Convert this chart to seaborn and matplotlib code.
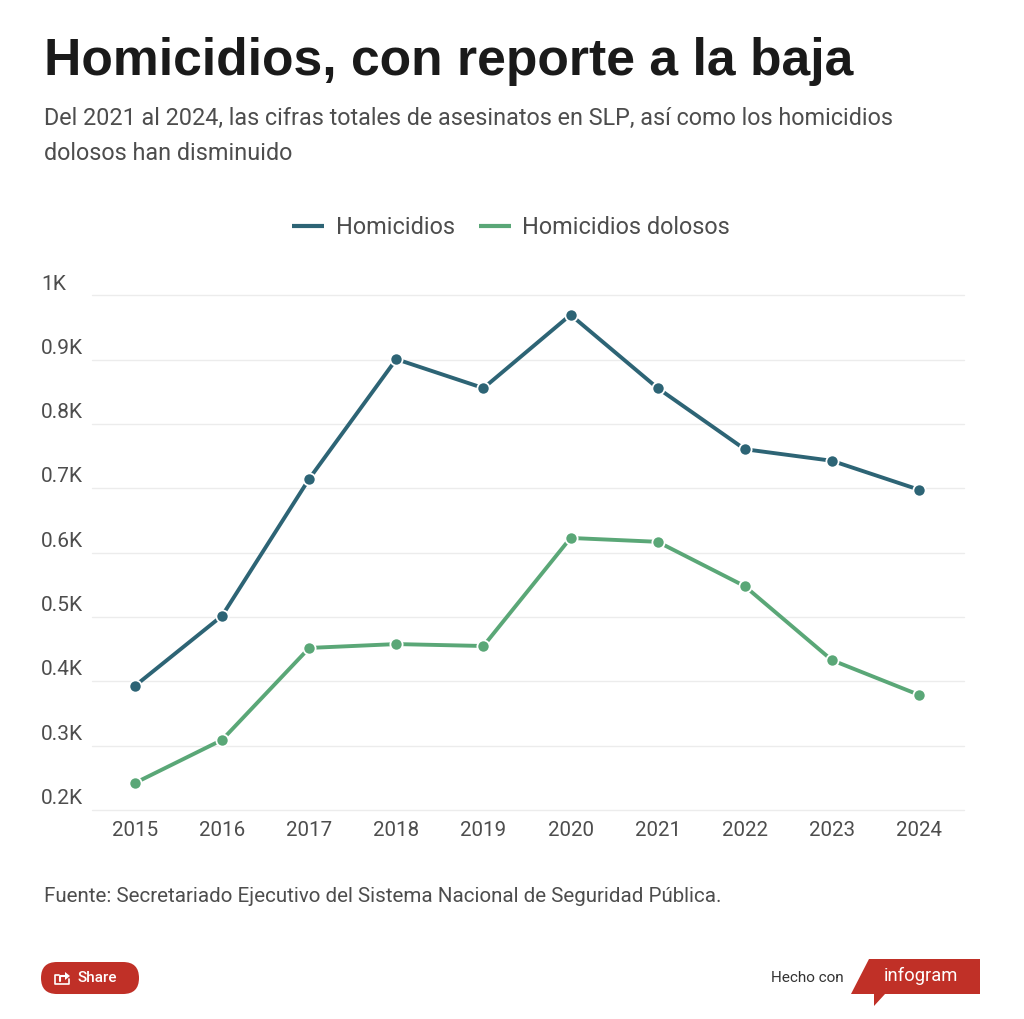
import matplotlib
matplotlib.use("Agg")
import matplotlib.pyplot as plt
import seaborn as sns
import pandas as pd
from matplotlib.lines import Line2D
from matplotlib.patches import FancyBboxPatch, Polygon

# values
years = [2015, 2016, 2017, 2018, 2019, 2020, 2021, 2022, 2023, 2024]
homicidios = [393, 502, 715, 901, 856, 970, 856, 761, 743, 698]
dolosos = [242, 309, 452, 458, 455, 623, 617, 548, 433, 379]
y_ticks = [200, 300, 400, 500, 600, 700, 800, 900, 1000]
y_labels = ["0.2K", "0.3K", "0.4K", "0.5K", "0.6K", "0.7K", "0.8K", "0.9K", "1K"]

AZUL = "#2d6475"
VERDE = "#5aa777"
GRIS = "#4d4d4d"
ROJO = "#c03027"

sns.set_theme(style="white")
plt.rcParams["font.family"] = ["Roboto", "DejaVu Sans"]

W, H = 1024, 1019
fig = plt.figure(figsize=(W / 100, H / 100), dpi=100, facecolor="white")

# axes box in pixels
left, right, top, bottom = 92, 964, 295.5, 810
ax = fig.add_axes([left / W, 1 - bottom / H, (right - left) / W, (bottom - top) / H])

df = pd.DataFrame({
    "year": years * 2,
    "value": homicidios + dolosos,
    "serie": ["Homicidios"] * 10 + ["Homicidios dolosos"] * 10,
})
sns.lineplot(
    data=df, x="year", y="value", hue="serie",
    palette={"Homicidios": AZUL, "Homicidios dolosos": VERDE},
    linewidth=2.8, marker="o", markersize=8.8,
    markeredgecolor="white", markeredgewidth=1.3,
    legend=False, ax=ax, zorder=3, clip_on=False,
)

ax.set_xlim(2015 - 43 / 87.17, 2024 + 45 / 87.17)
ax.set_ylim(200, 1000)
ax.set_yticks(y_ticks)
ax.set_yticklabels([])
ax.set_xticks(years)
ax.set_xticklabels(years, fontsize=14.8, color=GRIS)
ax.set_xlabel("")
ax.set_ylabel("")
ax.grid(axis="y", color="#ececec", linewidth=1.0)
ax.grid(axis="x", visible=False)
for gl in ax.get_ygridlines():
    gl.set_clip_on(False)
ax.set_axisbelow(True)
ax.tick_params(axis="x", length=0, pad=8.2)
ax.tick_params(axis="y", length=0)
sns.despine(ax=ax, left=True, bottom=True, top=True, right=True)


def fx(px):
    return px / W


def fy(py):
    return 1 - py / H


# y labels sit above their gridlines, outside the axes on the left
for tick, lab in zip(y_ticks, y_labels):
    py = bottom - (tick - 200) / 800 * (bottom - top)
    fig.text(fx(41), fy(py - 11.5), lab, fontsize=15, color=GRIS, va="center", ha="left")

fig.text(fx(44), fy(62), "Homicidios, con reporte a la baja", fontsize=37.2,
         fontweight="bold", color="#1a1a1a", family="Liberation Sans", va="center", ha="left")
fig.text(fx(44), fy(118), "Del 2021 al 2024, las cifras totales de asesinatos en SLP, así como los homicidios",
         fontsize=16.85, color=GRIS, va="center", ha="left")
fig.text(fx(44), fy(153), "dolosos han disminuido", fontsize=16.85, color=GRIS, va="center", ha="left")

# legend
for x0, x1, col in [(292, 324, AZUL), (479, 511, VERDE)]:
    fig.add_artist(Line2D([fx(x0), fx(x1)], [fy(226), fy(226)], color=col, linewidth=3.0,
                          solid_capstyle="butt"))
fig.text(fx(336), fy(227), "Homicidios", fontsize=16.9, color=GRIS, va="center", ha="left")
fig.text(fx(522), fy(227), "Homicidios dolosos", fontsize=16.9, color=GRIS, va="center", ha="left")

fig.text(fx(44), fy(896), "Fuente: Secretariado Ejecutivo del Sistema Nacional de Seguridad Pública.",
         fontsize=14.8, color=GRIS, va="center", ha="left")

# share button
overlay = fig.add_axes([0, 0, 1, 1], facecolor="none")
overlay.set_xlim(0, W)
overlay.set_ylim(H, 0)
overlay.axis("off")
overlay.add_patch(FancyBboxPatch((41 + 16, 962 + 16), 98 - 32, 0.01,
                                 boxstyle="round,pad=16", facecolor=ROJO, edgecolor="none"))
overlay.add_line(Line2D([59, 55, 55, 69, 69], [975, 975, 984, 984, 979], color="white", linewidth=1.2))
overlay.add_line(Line2D([60, 60, 65], [981, 976, 976], color="white", linewidth=1.5))
overlay.add_patch(Polygon([(65, 972), (70, 976), (65, 980)], closed=True, facecolor="white", edgecolor="none"))
overlay.text(78, 978, "Share", fontsize=11, color="white", fontweight="medium", va="center", ha="left")

# infogram badge
overlay.text(844, 978, "Hecho con", fontsize=11, color="#333333", va="center", ha="right")
overlay.add_patch(Polygon([(869, 959), (980, 959), (980, 994), (885, 994), (874, 1006),
                           (874, 994), (851, 994)], closed=True, facecolor=ROJO, edgecolor="none"))
overlay.text(921, 976, "infogram", fontsize=13.2, color="white", va="center", ha="center")

fig.savefig("out.png", dpi=100, facecolor="white")
